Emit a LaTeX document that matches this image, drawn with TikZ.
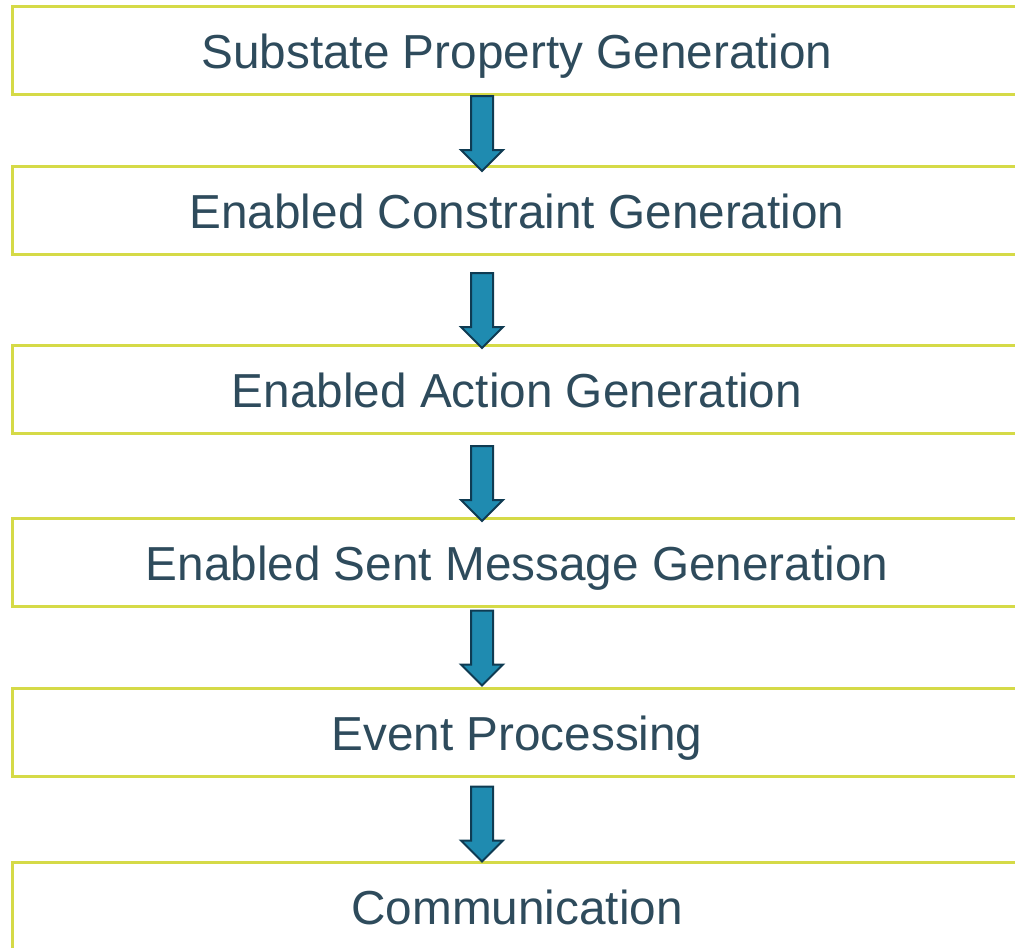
\documentclass[tikz,border=0pt]{standalone}
\usepackage{fontspec}
\setmainfont{Liberation Sans}
\usetikzlibrary{positioning,shapes.arrows,calc}

\definecolor{stageline}{HTML}{D5DA47}
\definecolor{stagetext}{HTML}{2E4B5C}
\definecolor{arrowfill}{HTML}{1F8BB0}
\definecolor{arrowline}{HTML}{0F3B52}

\begin{document}
\begin{tikzpicture}[
      x=1pt, y=-1pt,
      stage/.style={draw=stageline, line width=3pt, rectangle,
        minimum width=1010pt, minimum height=88pt, inner sep=0pt,
        text=stagetext, font=\fontsize{47.7pt}{52pt}\selectfont,
        text height=36pt, text depth=0pt},
      flowarrow/.style={single arrow, draw=arrowline, fill=arrowfill,
        line width=2pt, shape border rotate=270, inner sep=10pt,
        minimum height=75pt,
        single arrow head extend=10pt, single arrow tip angle=90}
    ]
        \useasboundingbox (0,0) rectangle (1015,948);
        \node[stage] (s1) at (517,50) {Substate Property Generation};
        \node[stage, below=69pt of s1] (s2) {Enabled Constraint Generation};
        \node[stage, below=88pt of s2] (s3) {Enabled Action Generation};
        \node[stage, below=82pt of s3] (s4) {Enabled Sent Message Generation};
        \node[stage, below=79pt of s4] (s5) {Event Processing};
        \node[stage, below=83pt of s5] (s6) {Communication};
        % block arrows between the stages
        \foreach \a/\b/\dy in {s1/s2/-2,s2/s3/5.5,s3/s4/2.5,s4/s5/-4.5,s5/s6/-0.5}
            \node[flowarrow] (\a\b) at ($(\a.south)!0.5!(\b.north)+(-35,\dy)$) {};
    \end{tikzpicture}
\end{document}
